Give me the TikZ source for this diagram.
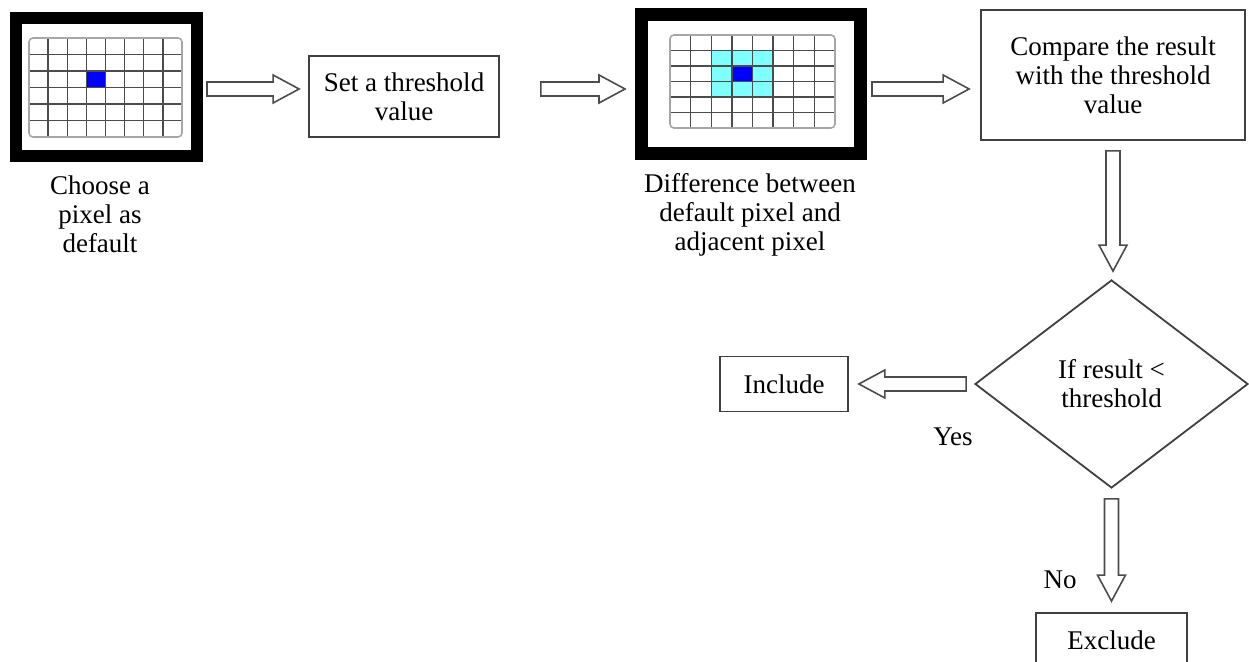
\documentclass[tikz,border=0pt]{standalone}
\usepackage{fontspec}
\setmainfont{Liberation Serif}
\usetikzlibrary{calc,shapes.geometric}
\definecolor{pixblue}{RGB}{0,0,255}
\definecolor{pixcyan}{RGB}{128,255,255}

\begin{document}
\begin{tikzpicture}[x=0.5pt, y=-0.5pt,
    every node/.style={font=\fontsize{13.5}{14.5}\selectfont, align=center},
    frame/.style={draw, line width=6pt, inner sep=0pt},
    box/.style={draw=black!75, line width=0.9pt, inner sep=0pt},
    gridline/.style={black!70, line width=0.7pt},
    gridedge/.style={black!35, line width=0.8pt, rounded corners=2pt},
    blockarrow/.style={draw=black!70, line width=0.8pt, fill=white,
        to path={($(\tikztostart)!3.5pt!90:(\tikztotarget)$)
            -- ($(\tikztotarget)!13pt!(\tikztostart)!3.5pt!-90:(\tikztostart)$)
            -- ($(\tikztotarget)!13pt!(\tikztostart)!7pt!-90:(\tikztostart)$)
            -- (\tikztotarget)
            -- ($(\tikztotarget)!13pt!(\tikztostart)!7pt!90:(\tikztostart)$)
            -- ($(\tikztotarget)!13pt!(\tikztostart)!3.5pt!90:(\tikztostart)$)
            -- ($(\tikztostart)!3.5pt!-90:(\tikztotarget)$)
            -- cycle}}]
    \clip (0,0) rectangle (1249,662);

    % pixel grids
    \fill[pixblue] (86.375,71) rectangle (105.5,87.5);
    \foreach \i in {1,...,7}
        \draw[gridline] ({29+\i*19.125},38) -- ({29+\i*19.125},137);
    \foreach \j in {1,...,5}
        \draw[gridline] (29,{38+\j*16.5}) -- (182,{38+\j*16.5});
    \draw[gridedge] (29,38) rectangle (182,137);

    \fill[pixcyan] (711.25,50.5) rectangle (773.125,97);
    \fill[pixblue] (731.875,66) rectangle (752.5,81.5);
    \foreach \i in {1,...,7}
        \draw[gridline] ({670+\i*20.625},35) -- ({670+\i*20.625},128);
    \foreach \j in {1,...,5}
        \draw[gridline] (670,{35+\j*15.5}) -- (835,{35+\j*15.5});
    \draw[gridedge] (670,35) rectangle (835,128);

    % nodes
    \node[frame, minimum width=90.5pt, minimum height=69pt] (img1) at (106.5,87) {};
    \node[frame, line width=6.5pt, minimum width=109.5pt, minimum height=69.75pt] (img2) at (751,84) {};
    \node[box, minimum width=95pt, minimum height=40.5pt] (thr) at (404,96.5) {Set a threshold\\value};
    \node[box, minimum width=132pt, minimum height=65pt] (cmp) at (1113,75) {Compare the result\\with the threshold\\value};
    \node[box, diamond, aspect=1.3, minimum width=136.5pt, minimum height=104pt] (dia) at (1111.5,384) {If result <\\threshold};
    \node[box, minimum width=64pt, minimum height=27.5pt] (inc) at (784,384) {Include};
    \node[box, minimum width=75.5pt, minimum height=27pt] (exc) at (1111.5,640) {Exclude};

    \node (cap1) at (100,214) {Choose a\\pixel as\\default};
    \node (cap2) at (750,215) {Difference between\\default pixel and\\adjacent pixel};
    \node (yes) at (953,437) {Yes};
    \node (no) at (1060,580) {No};

    % arrows
    \coordinate (row) at (0,89);
    \draw[blockarrow] ([xshift=2pt]img1.east |- row) to ([xshift=-4.5pt]thr.west |- row);
    \draw[blockarrow] ([xshift=20.5pt]thr.east |- row) to ([xshift=-5pt]img2.west |- row);
    \draw[blockarrow] ([xshift=2.5pt]img2.east |- row) to ([xshift=-5.5pt]cmp.west |- row);
    \draw[blockarrow] ([yshift=-5pt]cmp.south) to ([yshift=4pt]dia.north -| cmp.south);
    \draw[blockarrow] ([xshift=-4pt]dia.west) to ([xshift=5pt]inc.east |- dia.west);
    \draw[blockarrow] ([yshift=-5pt]dia.south) to ([yshift=5.5pt]exc.north);
\end{tikzpicture}
\end{document}
